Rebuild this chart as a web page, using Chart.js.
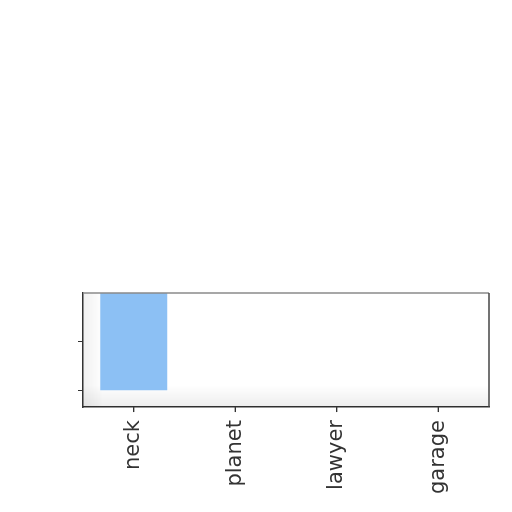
<!DOCTYPE html>
<html>
<head>
<meta charset="utf-8">
<script src="https://cdn.jsdelivr.net/npm/chart.js@4/dist/chart.umd.min.js"></script>
<style>
  html, body { margin: 0; padding: 0; background: #fff; }
  #wrap { width: 512px; height: 512px; }
</style>
</head>
<body>
<div id="wrap"><canvas id="grafico" width="512" height="512"></canvas></div>
<script>
// data
const categorias = ["neck", "planet", "lawyer", "garage"];
const valores = [2, 0, 0, 0];
const yTicks = [0, 1];
const yMin = -0.33;
const yMax = 1.98;

// soft shading inside the plot area, box on top and right, x tick marks at the categories
const moldura = {
    id: "moldura",
    beforeDatasetsDraw(chart) {
        const a = chart.chartArea;
        const ctx = chart.ctx;
        ctx.save();
        let gb = ctx.createLinearGradient(0, a.bottom, 0, a.bottom - 22);
        gb.addColorStop(0, "rgba(0,0,0,0.07)");
        gb.addColorStop(1, "rgba(0,0,0,0)");
        ctx.fillStyle = gb;
        ctx.fillRect(a.left, a.bottom - 22, a.right - a.left, 22);
        let gl = ctx.createLinearGradient(a.left, 0, a.left + 20, 0);
        gl.addColorStop(0, "rgba(0,0,0,0.06)");
        gl.addColorStop(1, "rgba(0,0,0,0)");
        ctx.fillStyle = gl;
        ctx.fillRect(a.left, a.top, 20, a.bottom - a.top);
        ctx.restore();
    },
    afterDraw(chart) {
        const a = chart.chartArea;
        const ctx = chart.ctx;
        ctx.save();
        ctx.lineWidth = 1.5;
        ctx.strokeStyle = "#8a8a8a";
        ctx.beginPath();
        ctx.moveTo(a.left, a.top);
        ctx.lineTo(a.right, a.top);
        ctx.stroke();
        ctx.strokeStyle = "#444";
        ctx.beginPath();
        ctx.moveTo(a.right, a.top);
        ctx.lineTo(a.right, a.bottom);
        ctx.stroke();
        const sx = chart.scales.x;
        ctx.strokeStyle = "#333";
        ctx.lineWidth = 1.2;
        categorias.forEach(function(c, i) {
            let px = sx.getPixelForTick(i);
            ctx.beginPath();
            ctx.moveTo(px, a.bottom);
            ctx.lineTo(px, a.bottom + 5);
            ctx.stroke();
        });
        ctx.restore();
    }
};

let g = document.getElementById("grafico").getContext("2d");
let graficoChart = new Chart(g, {
    type: "bar",
    data: {
        labels: categorias,
        datasets: [{
            data: valores,
            backgroundColor: "#8cc0f4",
            borderWidth: 0,
            barPercentage: 0.66,
            categoryPercentage: 1
        }]
    },
    options: {
        responsive: false,
        animation: false,
        layout: { padding: { top: 293, right: 23, left: 78, bottom: 10 } },
        plugins: { legend: { display: false }, tooltip: { enabled: false } },
        scales: {
            x: {
                grid: { offset: false, drawOnChartArea: false, drawTicks: true, tickLength: 5, color: "#333" },
                border: { color: "#333", width: 1.5 },
                ticks: {
                    minRotation: 90, maxRotation: 90, padding: 8,
                    color: "#333",
                    font: { family: "DejaVu Sans", size: 21 }
                }
            },
            y: {
                min: yMin,
                max: yMax,
                afterBuildTicks: function(scale) {
                    scale.ticks = yTicks.map(v => ({ value: v }));
                },
                grid: { drawOnChartArea: false, drawTicks: true, tickLength: 5, color: "#333" },
                border: { color: "#333", width: 1.5 },
                ticks: { display: false }
            }
        }
    },
    plugins: [moldura]
});
</script>
</body>
</html>
